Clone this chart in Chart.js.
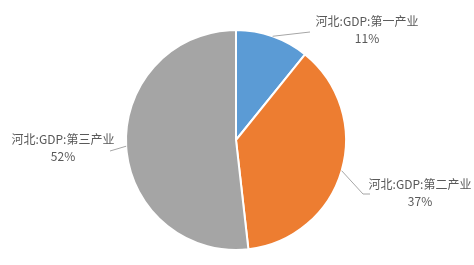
<!DOCTYPE html>
<html>
<head>
<meta charset="utf-8">
<script src="https://cdn.jsdelivr.net/npm/chart.js@4"></script>
<style>
  html, body { margin: 0; padding: 0; background: #fff; }
  #wrap { width: 474px; height: 265px; position: relative; }
</style>
</head>
<body>
<div id="wrap"><canvas id="c"></canvas></div>
<script>
const categories = ['河北:GDP:第一产业', '河北:GDP:第二产业', '河北:GDP:第三产业'];
const values = [10.8, 37.4, 51.8];
const colors = ['#5B9BD5', '#ED7D31', '#A5A5A5'];

// label box centre and leader line end/elbow for each slice
const labelPos = [
  { x: 367, y: 29, line: [[310, 32]] },
  { x: 420, y: 192, line: [[363, 194], [370, 194]] },
  { x: 63, y: 147, line: [[110, 151]] }
];

const labelPlugin = {
  id: 'sliceLabels',
  afterDraw(chart) {
    const ctx = chart.ctx;
    const meta = chart.getDatasetMeta(0);
    const total = values.reduce((a, b) => a + b, 0);
    ctx.save();
    meta.data.forEach((arc, i) => {
      const mid = (arc.startAngle + arc.endAngle) / 2;
      const sx = arc.x + Math.cos(mid) * arc.outerRadius;
      const sy = arc.y + Math.sin(mid) * arc.outerRadius;
      ctx.strokeStyle = '#A6A6A6';
      ctx.lineWidth = 1;
      ctx.beginPath();
      ctx.moveTo(sx, sy);
      labelPos[i].line.forEach(p => ctx.lineTo(p[0], p[1]));
      ctx.stroke();

      ctx.fillStyle = '#595959';
      ctx.font = '12px "Noto Sans CJK SC", sans-serif';
      ctx.textAlign = 'center';
      ctx.textBaseline = 'middle';
      ctx.fillText(categories[i], labelPos[i].x, labelPos[i].y - 8);
      ctx.fillText(Math.round(values[i] / total * 100) + '%', labelPos[i].x, labelPos[i].y + 9);
    });
    ctx.restore();
  }
};

new Chart(document.getElementById('c'), {
  type: 'pie',
  data: {
    labels: categories,
    datasets: [{
      data: values,
      backgroundColor: colors,
      borderColor: '#ffffff',
      borderWidth: 2
    }]
  },
  options: {
    responsive: true,
    maintainAspectRatio: false,
    animation: false,
    layout: { padding: { top: 29, bottom: 14, left: 0, right: 2 } },
    plugins: {
      legend: { display: false },
      tooltip: { enabled: false }
    }
  },
  plugins: [labelPlugin]
});
</script>
</body>
</html>
